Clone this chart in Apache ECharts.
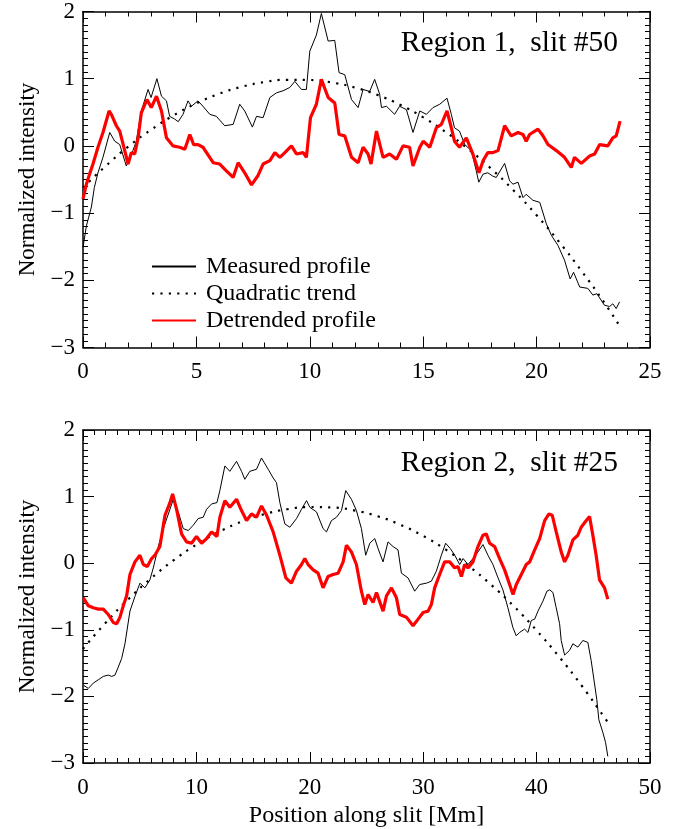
<!DOCTYPE html>
<html>
<head>
<meta charset="utf-8">
<script src="https://cdn.jsdelivr.net/npm/echarts@6/dist/echarts.min.js"></script>
<style>html,body{margin:0;padding:0;background:#fff}#c{width:685px;height:829px}</style>
</head>
<body>
<div id="c"></div>
<script>
// ---------- DATA ----------
var seriesNames = ['Measured profile', 'Quadratic trend', 'Detrended profile'];
var panelTitles = ['Region 1,  slit #50', 'Region 2,  slit #25'];
var yTicks = [-3, -2, -1, 0, 1, 2];
var xTicksTop = [0, 5, 10, 15, 20, 25];
var xTicksBottom = [0, 10, 20, 30, 40, 50];

var r1Measured = [[0,-1.51],[0.15,-1.19],[0.37,-0.91],[0.5,-0.62],[0.66,-0.40],[0.88,-0.17],[1.18,0.2],[1.4,0.07],[1.62,0.02],[1.91,-0.30],[2.06,-0.17],[2.2,-0.07],[2.35,0.07],[2.57,0.52],[2.87,0.84],[3.0,0.72],[3.26,1.0],[3.46,0.74],[3.68,0.67],[3.82,0.44],[4.04,0.40],[4.2,0.36],[4.41,0.47],[4.63,0.67],[4.78,0.59],[5.07,0.67],[5.29,0.59],[5.59,0.47],[5.88,0.44],[6.25,0.30],[6.62,0.32],[6.91,0.62],[7.13,0.52],[7.47,0.28],[7.65,0.44],[7.94,0.42],[8.24,0.72],[8.53,0.79],[8.82,0.82],[9.12,0.87],[9.34,0.96],[9.63,0.84],[9.85,0.84],[10.0,1.41],[10.29,1.65],[10.51,1.97],[10.81,1.56],[11.1,1.57],[11.29,1.09],[11.54,1.06],[11.84,0.69],[12.13,0.57],[12.35,0.84],[12.64,0.81],[12.86,0.99],[13.08,0.77],[13.16,0.57],[13.38,0.59],[13.74,0.47],[13.96,0.59],[14.26,0.54],[14.55,0.20],[14.85,0.52],[15.14,0.47],[15.43,0.57],[15.73,0.62],[16.05,0.71],[16.24,0.47],[16.38,0.27],[16.6,0.22],[16.83,0.02],[17.12,-0.07],[17.34,-0.37],[17.45,-0.54],[17.64,-0.42],[17.85,-0.40],[18.07,-0.45],[18.22,-0.47],[18.59,-0.26],[18.81,-0.52],[18.96,-0.57],[19.18,-0.54],[19.4,-0.77],[19.54,-0.72],[19.84,-0.81],[20.14,-0.84],[20.43,-1.16],[20.65,-1.33],[20.94,-1.48],[21.23,-1.70],[21.48,-1.98],[21.63,-1.88],[21.9,-2.10],[22.26,-2.12],[22.48,-2.22],[22.66,-2.20],[22.99,-2.37],[23.22,-2.39],[23.36,-2.35],[23.51,-2.42],[23.66,-2.32]];

var r1Trend = [[0,-0.62],[1,-0.30],[2,-0.01],[3,0.24],[4,0.455],[5,0.633],[6,0.775],[7,0.88],[8,0.95],[9,0.984],[10,0.981],[11,0.942],[12,0.867],[13,0.756],[14,0.608],[15,0.425],[16,0.205],[17,-0.05],[18,-0.34],[19,-0.668],[20,-1.032],[21,-1.432],[22,-1.87],[23,-2.34],[23.7,-2.70]];

var r1Detrended = [[0,-0.79],[0.15,-0.57],[0.29,-0.42],[0.44,-0.27],[0.66,-0.02],[0.88,0.20],[1.15,0.52],[1.25,0.47],[1.47,0.30],[1.62,0.22],[1.84,-0.07],[1.99,-0.27],[2.13,-0.10],[2.28,-0.12],[2.43,0.12],[2.57,0.49],[2.82,0.69],[3.01,0.57],[3.24,0.74],[3.46,0.52],[3.68,0.12],[3.97,0.0],[4.26,-0.02],[4.49,-0.05],[4.71,0.17],[4.88,0.02],[5.07,0.02],[5.29,-0.02],[5.74,-0.25],[6.03,-0.27],[6.32,-0.37],[6.62,-0.47],[6.84,-0.25],[7.13,-0.40],[7.43,-0.58],[7.72,-0.44],[7.94,-0.27],[8.24,-0.22],[8.46,-0.10],[8.68,-0.17],[8.9,-0.10],[9.19,0.0],[9.41,-0.12],[9.71,-0.10],[9.85,-0.17],[10.03,0.42],[10.29,0.62],[10.51,0.99],[10.81,0.72],[11.1,0.64],[11.29,0.17],[11.54,0.15],[11.84,-0.17],[12.13,-0.25],[12.35,-0.02],[12.57,-0.12],[12.7,-0.27],[12.94,0.22],[13.23,-0.17],[13.52,-0.12],[13.82,-0.20],[14.11,0.0],[14.4,-0.02],[14.55,-0.30],[14.85,-0.02],[15.0,0.07],[15.29,-0.02],[15.58,0.27],[15.8,0.32],[16.05,0.52],[16.24,0.27],[16.38,0.07],[16.6,-0.02],[16.9,0.12],[17.19,-0.12],[17.46,-0.40],[17.64,-0.22],[17.85,-0.10],[18.07,-0.10],[18.3,-0.07],[18.59,0.30],[18.88,0.15],[19.18,0.20],[19.4,0.17],[19.54,0.07],[19.69,0.17],[20.06,0.25],[20.28,0.15],[20.5,0.02],[20.87,-0.07],[21.23,-0.17],[21.53,-0.32],[21.67,-0.17],[21.97,-0.26],[22.34,-0.15],[22.56,-0.12],[22.78,0.02],[23.14,0.0],[23.36,0.12],[23.51,0.15],[23.68,0.37]];

var r2Measured = [[0.03,-1.83],[0.47,-1.88],[0.91,-1.80],[1.35,-1.75],[1.79,-1.70],[2.23,-1.68],[2.53,-1.70],[2.82,-1.68],[3.11,-1.56],[3.41,-1.43],[3.7,-1.21],[4.14,-0.72],[4.58,-0.50],[5.02,-0.30],[5.46,-0.37],[5.9,-0.25],[6.2,-0.07],[6.64,0.25],[7.08,0.52],[7.67,0.81],[7.96,0.96],[8.4,0.77],[8.84,0.52],[9.28,0.49],[9.72,0.57],[10.16,0.67],[10.6,0.69],[10.9,0.81],[11.34,0.89],[11.81,0.91],[12.07,1.09],[12.51,1.46],[12.95,1.38],[13.54,1.53],[13.98,1.38],[14.27,1.26],[14.71,1.38],[15.3,1.41],[15.74,1.58],[16.33,1.41],[16.77,1.28],[17.06,1.21],[17.36,0.91],[17.8,0.59],[18.24,0.54],[18.83,0.67],[19.27,0.81],[19.71,0.94],[20.0,0.84],[20.59,0.77],[21.17,0.52],[21.47,0.47],[21.91,0.64],[22.35,0.69],[22.79,0.79],[23.17,1.09],[23.67,0.96],[24.11,0.79],[24.55,0.52],[24.93,0.12],[25.29,0.30],[25.73,0.37],[26.02,0.22],[26.46,0.02],[26.9,0.32],[27.34,0.25],[27.78,0.20],[28.08,-0.15],[28.66,-0.22],[29.25,-0.42],[29.69,-0.32],[30.28,-0.30],[30.72,-0.27],[31.16,-0.12],[31.6,0.12],[31.98,0.30],[32.39,0.22],[32.78,0.12],[33.22,-0.02],[33.52,0.07],[33.95,-0.02],[34.39,0.07],[34.83,0.17],[35.27,0.28],[35.71,0.12],[36.15,-0.02],[36.6,-0.22],[37.03,-0.40],[37.47,-0.67],[37.9,-0.96],[38.2,-1.09],[38.5,-1.04],[38.94,-0.99],[39.24,-1.04],[39.53,-0.86],[39.83,-0.84],[40.12,-0.72],[40.56,-0.57],[40.91,-0.42],[41.15,-0.40],[41.44,-0.44],[41.73,-0.67],[42.03,-0.91],[42.17,-1.16],[42.47,-1.38],[42.9,-1.31],[43.2,-1.21],[43.64,-1.26],[44.08,-1.16],[44.52,-1.19],[44.81,-1.46],[45.1,-1.80],[45.31,-2.05],[45.49,-2.35],[45.84,-2.54],[46.08,-2.69],[46.28,-2.90]];

var r2Trend = [[0,-1.286],[2,-0.894],[4,-0.541],[6,-0.228],[8,0.045],[10,0.279],[12,0.472],[14,0.625],[16,0.737],[18,0.81],[20,0.844],[22,0.837],[24,0.79],[26,0.704],[28,0.576],[30,0.409],[32,0.203],[34,-0.042],[36,-0.326],[38,-0.648],[40,-1.009],[42,-1.408],[44,-1.844],[46,-2.32],[46.4,-2.42]];

var r2Detrended = [[0.03,-0.52],[0.47,-0.64],[0.91,-0.67],[1.35,-0.69],[1.79,-0.69],[2.23,-0.77],[2.67,-0.89],[2.97,-0.91],[3.26,-0.81],[3.55,-0.64],[3.85,-0.49],[4.14,-0.17],[4.58,0.02],[5.02,0.12],[5.32,-0.02],[5.67,-0.05],[6.05,0.07],[6.34,0.12],[6.78,0.25],[7.23,0.72],[7.67,0.91],[7.9,1.04],[8.25,0.81],[8.69,0.44],[9.13,0.32],[9.57,0.30],[10.01,0.40],[10.46,0.30],[10.9,0.37],[11.34,0.47],[11.81,0.40],[12.07,0.69],[12.51,0.94],[12.95,0.84],[13.54,0.96],[13.98,0.79],[14.42,0.64],[14.86,0.74],[15.3,0.69],[15.74,0.86],[16.19,0.72],[16.77,0.47],[17.36,0.12],[17.89,-0.22],[18.38,-0.30],[18.83,-0.12],[19.27,-0.02],[19.56,0.07],[19.85,-0.02],[20.3,-0.10],[20.73,-0.15],[21.17,-0.37],[21.61,-0.20],[22.05,-0.17],[22.5,-0.15],[22.94,0.02],[23.23,0.27],[23.67,0.17],[24.11,-0.02],[24.55,-0.42],[24.85,-0.62],[25.14,-0.47],[25.58,-0.59],[25.88,-0.44],[26.46,-0.72],[26.76,-0.49],[27.2,-0.37],[27.64,-0.52],[27.93,-0.77],[28.52,-0.81],[29.1,-0.94],[29.55,-0.84],[29.99,-0.74],[30.43,-0.72],[30.72,-0.62],[31.01,-0.37],[31.45,-0.17],[31.89,0.02],[32.34,0.02],[32.78,-0.07],[33.07,-0.05],[33.37,-0.20],[33.66,-0.02],[33.95,-0.07],[34.39,0.02],[34.83,0.25],[35.27,0.42],[35.56,0.44],[35.86,0.30],[36.3,0.25],[36.74,0.07],[37.18,-0.10],[37.62,-0.32],[37.92,-0.47],[38.21,-0.32],[38.65,-0.17],[39.09,-0.02],[39.39,0.02],[39.83,0.20],[40.27,0.37],[40.71,0.64],[41.09,0.74],[41.38,0.72],[41.73,0.47],[42.17,0.17],[42.47,0.02],[42.76,0.12],[43.2,0.35],[43.64,0.42],[43.93,0.54],[44.38,0.64],[44.67,0.70],[44.96,0.42],[45.25,0.12],[45.55,-0.25],[45.99,-0.37],[46.28,-0.54]];

// ---------- CHART ----------
var FONT = '"Liberation Serif", "Times New Roman", Times, serif';
var chart = echarts.init(document.getElementById('c'), null, {renderer: 'canvas'});

function minusFmt(v) { return String(v).replace('-', '\u2212'); }

function xAx(gridIndex, ticks, minorSplit, pos, showLabel, name) {
  return {
    type: 'value', gridIndex: gridIndex, position: pos,
    min: ticks[0], max: ticks[ticks.length - 1], interval: ticks[1] - ticks[0],
    splitLine: {show: false},
    axisLine: {show: true, onZero: false, lineStyle: {color: '#000', width: 1.5}},
    axisTick: {show: true, inside: true, length: 11, lineStyle: {color: '#000', width: 1}},
    minorTick: {show: true, splitNumber: minorSplit, length: 5, lineStyle: {color: '#000', width: 1}},
    axisLabel: {show: showLabel, color: '#000', fontFamily: FONT, fontSize: 23, margin: 13},
    name: name || '', nameLocation: 'middle', nameGap: 41,
    nameTextStyle: {color: '#000', fontFamily: FONT, fontSize: 24}
  };
}
function yAx(gridIndex, pos, showLabel) {
  return {
    type: 'value', gridIndex: gridIndex, position: pos,
    min: yTicks[0], max: yTicks[yTicks.length - 1], interval: 1,
    splitLine: {show: false},
    axisLine: {show: true, onZero: false, lineStyle: {color: '#000', width: 1.5}},
    axisTick: {show: true, inside: true, length: 11, lineStyle: {color: '#000', width: 1}},
    minorTick: {show: true, splitNumber: 10, length: 5, lineStyle: {color: '#000', width: 1}},
    axisLabel: {show: showLabel, color: '#000', fontFamily: FONT, fontSize: 23, margin: 8, formatter: minusFmt},
    name: showLabel ? 'Normalized intensity' : '', nameLocation: 'middle', nameGap: 41,
    nameTextStyle: {color: '#000', fontFamily: FONT, fontSize: 23}
  };
}

function mkSeries(xi, yi, measured, trend, detrended) {
  return [
    {name: seriesNames[0], type: 'line', xAxisIndex: xi, yAxisIndex: yi, data: measured,
     showSymbol: false, symbol: 'none', itemStyle: {color: '#000'}, lineStyle: {color: '#000', width: 1}, z: 3},
    {name: seriesNames[1], type: 'line', xAxisIndex: xi, yAxisIndex: yi, data: trend, smooth: true,
     showSymbol: false, symbol: 'none', itemStyle: {color: '#000'}, lineStyle: {color: '#000', width: 2.2, type: [2.2, 6.2]}, z: 2},
    {name: seriesNames[2], type: 'line', xAxisIndex: xi, yAxisIndex: yi, data: detrended,
     showSymbol: false, symbol: 'none', itemStyle: {color: '#ff0000'}, lineStyle: {color: '#ff0000', width: 3.2}, z: 4}
  ];
}

var option = {
  backgroundColor: '#fff',
  animation: false,
  textStyle: {fontFamily: FONT},
  title: [
    {text: panelTitles[0], right: 62, top: 23, textStyle: {fontFamily: FONT, fontSize: 29.5, fontWeight: 'normal', color: '#000'}},
    {text: panelTitles[1], right: 62, top: 443, textStyle: {fontFamily: FONT, fontSize: 29.5, fontWeight: 'normal', color: '#000'}}
  ],
  legend: {
    data: seriesNames, orient: 'vertical', left: 146, top: 248,
    itemWidth: 44, itemHeight: 10, itemGap: 0,
    itemStyle: {opacity: 0},
    textStyle: {fontFamily: FONT, fontSize: 24, lineHeight: 27, color: '#000', padding: [0, 0, 0, 5]},
    selectedMode: false
  },
  grid: [
    {left: 83, top: 10, width: 567, height: 337.5},
    {left: 83, top: 430, width: 567, height: 337.5}
  ],
  xAxis: [
    xAx(0, xTicksTop, 5, 'bottom', true),
    xAx(0, xTicksTop, 5, 'top', false),
    xAx(1, xTicksBottom, 10, 'bottom', true, 'Position along slit [Mm]'),
    xAx(1, xTicksBottom, 10, 'top', false)
  ],
  yAxis: [
    yAx(0, 'left', true), yAx(0, 'right', false),
    yAx(1, 'left', true), yAx(1, 'right', false)
  ],
  series: [].concat(mkSeries(0, 0, r1Measured, r1Trend, r1Detrended), mkSeries(2, 2, r2Measured, r2Trend, r2Detrended))
};
chart.setOption(option);
</script>
</body>
</html>
